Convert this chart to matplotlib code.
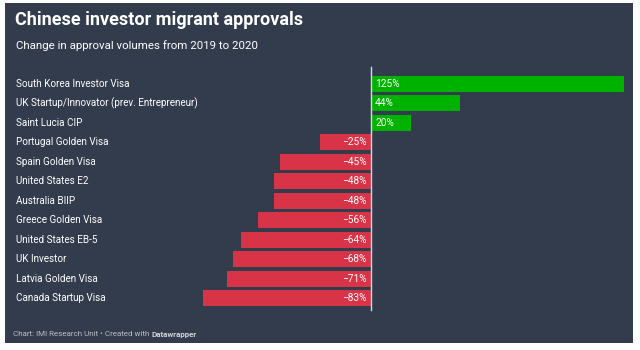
import matplotlib
matplotlib.use("Agg")
import matplotlib.pyplot as plt
from matplotlib.patches import Rectangle

categories = ["South Korea Investor Visa", "UK Startup/Innovator (prev. Entrepreneur)",
              "Saint Lucia CIP", "Portugal Golden Visa", "Spain Golden Visa",
              "United States E2", "Australia BIIP", "Greece Golden Visa",
              "United States EB-5", "UK Investor", "Latvia Golden Visa",
              "Canada Startup Visa"]
values = [125, 44, 20, -25, -45, -48, -48, -56, -64, -68, -71, -83]
value_labels = ["125%", "44%", "20%", "\u221225%", "\u221245%", "\u221248%", "\u221248%",
                "\u221256%", "\u221264%", "\u221268%", "\u221271%", "\u221283%"]

title = "Chinese investor migrant approvals"
subtitle = "Change in approval volumes from 2019 to 2020"

W, H = 640, 350
BG = "#333c4d"
GREEN = "#00b200"
RED = "#d93348"

plt.rcParams['font.family'] = ['Roboto', 'DejaVu Sans']
fig = plt.figure(figsize=(W / 100, H / 100), dpi=100)
fig.patch.set_facecolor("white")
fig.patches.append(Rectangle((5 / W, 1 - 343 / H), 628 / W, 340 / H,
                             transform=fig.transFigure, facecolor=BG,
                             edgecolor="none", zorder=-10))

def fx(px):
    return px / W

def fy(py):
    return 1 - py / H

n = len(categories)
row_h = (298 - 84) / (n - 1)
top = 84 - row_h / 2
bottom = 298 + row_h / 2
ax = fig.add_axes([fx(203), fy(bottom), fx(624) - fx(203), (bottom - top) / H])
ax.set_facecolor("none")
ax.set_xlim(-83, 125)
ax.set_ylim(n - 0.5, -0.5)
ax.axis("off")

ys = list(range(n))
colors = [GREEN if v > 0 else RED for v in values]
ax.barh(ys, values, height=0.82, color=colors, zorder=2)
ax.axvline(0, color="#d8d8d8", lw=1, ymin=-0.01, ymax=1.03, zorder=3, clip_on=False)

for y, v, lab, cat in zip(ys, values, value_labels, categories):
    if v > 0:
        ax.annotate(lab, (0, y), xytext=(3, 0), textcoords="offset points",
                    ha="left", va="center", color="white", fontsize=7.3, zorder=4)
    else:
        ax.annotate(lab, (0, y), xytext=(-3, 0), textcoords="offset points",
                    ha="right", va="center", color="white", fontsize=7.3, zorder=4)
    fig.text(fx(16), fy(84 + y * row_h), cat, ha="left", va="center",
             color="white", fontsize=7.1)

fig.text(fx(15), fy(20), title, ha="left", va="center", color="white",
         fontsize=13, fontweight="bold")
fig.text(fx(16), fy(46), subtitle, ha="left", va="center", color="white",
         fontsize=8.25)
foot_pre = "Chart: IMI Research Unit \u2022 Created with "
fig.text(fx(13), fy(334), foot_pre, ha="left",
         va="center", color="#b8bcc4", fontsize=5.8)
t = fig.text(fx(13), fy(334), foot_pre,
             ha="left", va="center", color="none", fontsize=5.8)
fig.canvas.draw()
bb = t.get_window_extent()
fig.text(bb.x1 / (W), fy(334), "Datawrapper", ha="left", va="center",
         color="#d0d3d8", fontsize=5.8, fontweight="bold")

fig.savefig("out.png", dpi=100, facecolor="white")
